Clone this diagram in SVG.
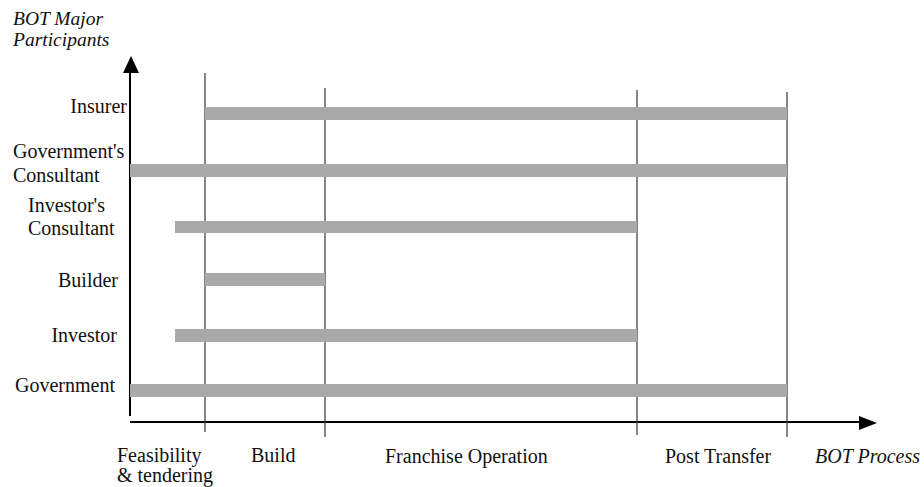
<svg xmlns="http://www.w3.org/2000/svg" width="924" height="487" viewBox="0 0 924 487">
<defs>
<style>
text{font-family:"Liberation Serif","Times New Roman",serif;font-size:20px;fill:#111}
.it{font-style:italic}
.ttl{font-size:19.5px}
.axis{stroke:#000;stroke-width:2;fill:none}
.phase{stroke:#333;stroke-width:1.2;fill:none}
.bar{fill:#a9a9a9}
</style>
<pattern id="halftone" width="3" height="3" patternUnits="userSpaceOnUse">
<rect width="3" height="3" fill="#b4b4b4"/>
<rect width="1" height="1" fill="#858585"/>
<rect x="2" y="1" width="1" height="1" fill="#858585"/>
<rect x="1" y="2" width="1" height="1" fill="#858585"/>
</pattern>
</defs>
<rect width="924" height="487" fill="#fff"/>

<g id="connectors">
<line class="axis" x1="130" y1="72" x2="130" y2="416"/>
<polygon points="131,56 123,73 139,73" fill="#000"/>
<line class="axis" x1="130" y1="422" x2="860" y2="422"/>
<polygon points="877,423 859,416 859,430" fill="#000"/>
<line class="phase" x1="205" y1="73" x2="205" y2="432"/>
<line class="phase" x1="325" y1="88" x2="325" y2="437"/>
<line class="phase" x1="637" y1="90" x2="637" y2="435"/>
<line class="phase" x1="787" y1="92" x2="787" y2="437"/>
</g>

<g id="axis-titles">
<text class="it ttl" x="13" y="25">BOT Major</text>
<text class="it ttl" x="13" y="46">Participants</text>
<text class="it" x="815" y="463">BOT Process</text>
</g>

<g id="insurer">
<text x="127" y="113" text-anchor="end">Insurer</text>
<rect class="bar" x="205" y="107" width="582" height="13" fill="url(#halftone)"/>
</g>
<g id="governments-consultant">
<text x="13" y="158">Government's</text>
<text x="13" y="182">Consultant</text>
<rect class="bar" x="130" y="164" width="657" height="13" fill="url(#halftone)"/>
</g>
<g id="investors-consultant">
<text x="28" y="212">Investor's</text>
<text x="28" y="235">Consultant</text>
<rect class="bar" x="175" y="221" width="462" height="12" fill="url(#halftone)"/>
</g>
<g id="builder">
<text x="118" y="287" text-anchor="end">Builder</text>
<rect class="bar" x="205" y="273" width="120" height="13" fill="url(#halftone)"/>
</g>
<g id="investor">
<text x="117" y="342" text-anchor="end">Investor</text>
<rect class="bar" x="175" y="329" width="462" height="13" fill="url(#halftone)"/>
</g>
<g id="government">
<text x="115" y="392" text-anchor="end">Government</text>
<rect class="bar" x="130" y="384" width="657" height="13" fill="url(#halftone)"/>
</g>

<g id="phases">
<text x="117" y="462">Feasibility</text>
<text x="117" y="482">&amp; tendering</text>
<text x="251" y="462">Build</text>
<text x="385" y="463">Franchise Operation</text>
<text x="665" y="463">Post Transfer</text>
</g>
</svg>
